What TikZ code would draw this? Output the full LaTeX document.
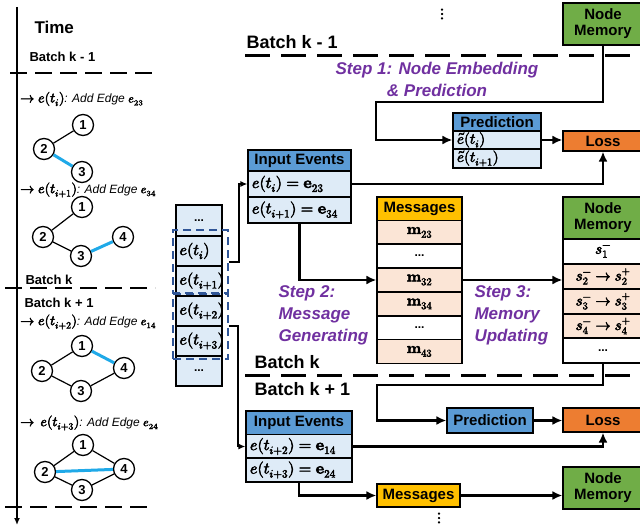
\documentclass[tikz,border=0pt]{standalone}
\usepackage{fontspec}
\setmainfont{Liberation Sans}
\usepackage{amsmath}
\usepackage{unicode-math}
\setmathfont{Latin Modern Math}
\setmathfont[version=bold,FakeBold=3.5]{Latin Modern Math}
\usetikzlibrary{arrows.meta}
\definecolor{entete}{HTML}{5B9BD5}
\definecolor{bleuclair}{HTML}{DEEBF7}
\definecolor{rose}{HTML}{FBE5D6}
\definecolor{jaune}{HTML}{FFC000}
\definecolor{vertmem}{HTML}{70AD47}
\definecolor{orangeperte}{HTML}{ED7D31}
\definecolor{violetetape}{HTML}{7030A0}
\definecolor{cyanarete}{HTML}{1FA9E8}
\definecolor{bleucadre}{HTML}{2F5597}
\begin{document}
\begin{tikzpicture}[x=1pt,y=-1pt]
	\tikzset{boite/.style={draw=black, line width=1.2pt, inner sep=0pt, font=\fontsize{15}{17}\selectfont\bfseries\boldmath},
		entetebleu/.style={boite, fill=entete}, cellule/.style={boite, fill=bleuclair}, rosee/.style={boite, fill=rose}, blanche/.style={boite, fill=white},
		gauche/.style={text width=#1, align=left, inner xsep=4pt},
		sommet/.style={circle, draw=black, line width=1.3pt, minimum size=21pt, inner sep=0pt, font=\fontsize{13}{13}\selectfont\bfseries},
		arete/.style={line width=1.2pt}, nouvelle/.style={line width=3pt, cyanarete},
		fleche/.style={-{Latex[length=10pt,width=9pt]}, line width=2.4pt},
		finefleche/.style={-{Latex[length=7pt,width=6pt]}, line width=1.5pt},
		separation/.style={dash pattern=on 17pt off 8pt, line width=2pt},
		grandesep/.style={dash pattern=on 25pt off 11pt, line width=3pt},
		cadre/.style={draw=bleucadre, dash pattern=on 8pt off 5pt, line width=2pt, inner sep=0pt},
		etape/.style={violetetape, align=left, font=\fontsize{17}{22}\selectfont\bfseries\itshape},
		legende/.style={anchor=west, inner xsep=1pt, font=\fontsize{14}{14}\selectfont\boldmath}};

	\clip (0,0) rectangle (640,527);

	\coordinate (t0) at (17,7);
	\coordinate (t1) at (17,525);
	\draw[-{Latex[length=7pt,width=6pt]}, line width=1.5pt] (t0) -- (t1);
	\node[anchor=west, font=\fontsize{17}{17}\selectfont\bfseries] (temps) at (31,27) {Time};
	\node[anchor=west, font=\fontsize{13}{13}\selectfont\bfseries] (bk0) at (26,57) {Batch k - 1};
	\node[anchor=west, font=\fontsize{13}{13}\selectfont\bfseries] (bk1) at (22,280) {Batch k};
	\node[anchor=west, font=\fontsize{13}{13}\selectfont\bfseries] (bk2) at (21,303) {Batch k + 1};
	\draw[separation] (10,73) -- (155,73);
	\draw[separation] (5,288) -- (155,288);
	\draw[separation] (5,507) -- (150,507);

	\node[legende] (l1) at (19,99) {$\rightarrow e(t_{i})$\fontsize{12}{14}\selectfont\textit{: Add Edge }$e_{23}$};
	\node[legende] (l2) at (19,190) {$\rightarrow e(t_{i+1})$\fontsize{12}{14}\selectfont\textit{: Add Edge }$e_{34}$};
	\node[legende] (l3) at (19,322) {$\rightarrow e(t_{i+2})$\fontsize{12}{14}\selectfont\textit{: Add Edge }$e_{14}$};
	\node[legende] (l4) at (19,423) {$\rightarrow\, e(t_{i+3})$\fontsize{12}{14}\selectfont\textit{: Add Edge }$e_{24}$};

	\node[sommet] (s11) at (83,125) {1};
	\node[sommet] (s21) at (44,149) {2};
	\node[sommet] (s31) at (82,172) {3};
	\draw[arete] (s21) -- (s11);
	\draw[nouvelle] (s21) -- (s31);

	\node[sommet] (s12) at (82,207) {1};
	\node[sommet] (s22) at (43,237) {2};
	\node[sommet] (s32) at (81,256) {3};
	\node[sommet] (s42) at (123,237) {4};
	\draw[arete] (s22) -- (s12);
	\draw[arete] (s22) -- (s32);
	\draw[nouvelle] (s32) -- (s42);

	\node[sommet] (s13) at (82,346) {1};
	\node[sommet] (s23) at (42,371) {2};
	\node[sommet] (s33) at (81,391) {3};
	\node[sommet] (s43) at (124,368) {4};
	\draw[arete] (s23) -- (s13);
	\draw[arete] (s23) -- (s33);
	\draw[arete] (s33) -- (s43);
	\draw[nouvelle] (s13) -- (s43);

	\node[sommet] (s14) at (83,445) {1};
	\node[sommet] (s24) at (45,472) {2};
	\node[sommet] (s34) at (82,490) {3};
	\node[sommet] (s44) at (124,469) {4};
	\draw[arete] (s24) -- (s14);
	\draw[arete] (s24) -- (s34);
	\draw[arete] (s34) -- (s44);
	\draw[arete] (s14) -- (s44);
	\draw[nouvelle] (s24) -- (s44);

	\node[cellule, minimum width=46pt, minimum height=31pt, font=\fontsize{12}{12}\selectfont\bfseries] (ev0) at (199,220.5) {...};
	\node[cellule, minimum width=46pt, minimum height=30pt] (ev1) at (199,251) {};
	\node[cellule, minimum width=46pt, minimum height=30pt] (ev2) at (199,281) {};
	\node[cellule, minimum width=46pt, minimum height=30pt] (ev3) at (199,311) {};
	\node[cellule, minimum width=46pt, minimum height=30pt] (ev4) at (199,341) {};
	\node[cellule, minimum width=46pt, minimum height=30pt, font=\fontsize{12}{12}\selectfont\bfseries] (ev5) at (199,371) {...};
	\begin{scope}
		\clip (176.6,205) rectangle (221.4,386);
		\node[anchor=west, font=\fontsize{16}{16}\selectfont\boldmath] (tx1) at (176,251) {$e(t_{i})$};
		\node[anchor=west, font=\fontsize{16}{16}\selectfont\boldmath] (tx2) at (176,281) {$e(t_{i+1})$};
		\node[anchor=west, font=\fontsize{16}{16}\selectfont\boldmath] (tx3) at (176,311) {$e(t_{i+2})$};
		\node[anchor=west, font=\fontsize{16}{16}\selectfont\boldmath] (tx4) at (176,341) {$e(t_{i+3})$};
	\end{scope}
	\node[cadre, minimum width=55pt, minimum height=64pt] (cadre1) at (200.5,262) {};
	\node[cadre, minimum width=55pt, minimum height=66pt] (cadre2) at (200.5,326) {};

	\node[anchor=west, font=\fontsize{18}{18}\selectfont\bfseries] (bt0) at (243,42) {Batch k - 1};
	\node[anchor=west, font=\fontsize{18}{18}\selectfont\bfseries] (bt1) at (251,362) {Batch k};
	\node[anchor=west, font=\fontsize{18}{18}\selectfont\bfseries] (bt2) at (251,389) {Batch k + 1};
	\draw[grandesep] (245,56) -- (640,56);
	\draw[grandesep] (245,375) -- (640,375);
	\node[font=\fontsize{16}{16}\selectfont\boldmath] (pts0) at (442,14) {$\vdots$};
	\node[font=\fontsize{16}{16}\selectfont\boldmath] (pts1) at (439,518) {$\vdots$};

	\node[etape, align=center] (etape1) at (437,79) {Step 1: Node Embedding\\\& Prediction};
	\node[etape, anchor=west] (etape2) at (275,315) {Step 2:\\Message\\Generating};
	\node[etape, anchor=west] (etape3) at (471,315) {Step 3:\\Memory\\Updating};

	\node[boite, fill=vertmem, minimum width=80pt, minimum height=42pt, align=center] (nm0) at (603,24) {Node\\[-1pt]Memory};
	\node[entetebleu, minimum width=88pt, minimum height=18pt] (pred1h) at (497,122) {Prediction};
	\node[cellule, minimum height=18pt, gauche=80pt] (pred1a) at (497,140) {$\tilde{e}(t_{i})$};
	\node[cellule, minimum height=19pt, gauche=80pt] (pred1b) at (497,158.5) {$\tilde{e}(t_{i+1})$};
	\node[boite, fill=orangeperte, minimum width=80pt, minimum height=20pt] (loss1) at (603,141) {Loss};

	\node[entetebleu, minimum width=103pt, minimum height=21pt] (ie1h) at (299.5,160.5) {Input Events};
	\node[cellule, minimum height=26pt, gauche=95pt, font=\fontsize{16}{17}\selectfont\boldmath] (ie1a) at (299.5,184) {$e(t_{i}) = \symbf{e}_{23}$};
	\node[cellule, minimum height=26pt, gauche=95pt, font=\fontsize{16}{17}\selectfont\boldmath] (ie1b) at (299.5,210) {$e(t_{i+1}) = \symbf{e}_{34}$};

	\node[boite, fill=jaune, minimum width=85pt, minimum height=24pt] (msg1h) at (419.5,209) {Messages};
	\node[rosee, minimum width=85pt, minimum height=23.5pt] (m23) at (419.5,232.5) {$\symbf{m}_{23}$};
	\node[blanche, minimum width=85pt, minimum height=24pt, font=\fontsize{12}{12}\selectfont\bfseries] (mpt1) at (419.5,256) {...};
	\node[rosee, minimum width=85pt, minimum height=24pt] (m32) at (419.5,280) {$\symbf{m}_{32}$};
	\node[rosee, minimum width=85pt, minimum height=24pt] (m34) at (419.5,304) {$\symbf{m}_{34}$};
	\node[blanche, minimum width=85pt, minimum height=24pt, font=\fontsize{12}{12}\selectfont\bfseries] (mpt2) at (419.5,328) {...};
	\node[rosee, minimum width=85pt, minimum height=23.5pt] (m43) at (419.5,351.5) {$\symbf{m}_{43}$};

	\node[boite, fill=vertmem, minimum width=80pt, minimum height=42pt, align=center] (nm1h) at (603,218) {Node\\[-1pt]Memory};
	\node[blanche, minimum width=80pt, minimum height=25pt] (nm1a) at (603,251.5) {$s_{1}^{-}$};
	\node[rosee, minimum width=80pt, minimum height=25pt] (nm1b) at (603,276.5) {$s_{2}^{-} \rightarrow s_{2}^{+}$};
	\node[rosee, minimum width=80pt, minimum height=25pt] (nm1c) at (603,301.5) {$s_{3}^{-} \rightarrow s_{3}^{+}$};
	\node[rosee, minimum width=80pt, minimum height=24pt] (nm1d) at (603,326) {$s_{4}^{-} \rightarrow s_{4}^{+}$};
	\node[blanche, minimum width=80pt, minimum height=25pt, font=\fontsize{12}{12}\selectfont\bfseries] (nm1e) at (603,350.5) {...};

	\node[entetebleu, minimum width=86pt, minimum height=25pt] (pred2) at (490,420.5) {Prediction};
	\node[boite, fill=orangeperte, minimum width=80pt, minimum height=24pt] (loss2) at (603,420) {Loss};
	\node[entetebleu, minimum width=106pt, minimum height=24pt] (ie2h) at (299,423) {Input Events};
	\node[cellule, minimum height=23.5pt, gauche=98pt, font=\fontsize{16}{17}\selectfont\boldmath] (ie2a) at (299,446.5) {$e(t_{i+2}) = \symbf{e}_{14}$};
	\node[cellule, minimum height=24pt, gauche=98pt, font=\fontsize{16}{17}\selectfont\boldmath] (ie2b) at (299,470) {$e(t_{i+3}) = \symbf{e}_{24}$};
	\node[boite, fill=jaune, minimum width=83pt, minimum height=23pt] (msg2) at (418.5,495.5) {Messages};
	\node[boite, fill=vertmem, minimum width=80pt, minimum height=42pt, align=center] (nm2) at (603,488) {Node\\[-1pt]Memory};

	\coordinate (coude1) at (376,102);
	\coordinate (coude2) at (377,385);
	\draw[finefleche] (cadre1.east) -- ++(10,0) |- (ie1a.west);
	\draw[finefleche] (cadre2.east) -- ++(9,0) |- (ie2a.west);
	\draw[fleche] (ie1a.east) -| (loss1.south);
	\draw[fleche] (ie1b.south) |- (m32.west);
	\draw[fleche] (m32.east) -- (m32.east -| nm1b.west);
	\draw[fleche] (nm0.south) |- (coude1) |- (pred1a.west);
	\draw[fleche] (pred1a.east) -- (pred1a.east -| loss1.west);
	\draw[fleche] (nm1e.south) |- (coude2) |- (pred2.west);
	\draw[fleche] (pred2.east) -- (pred2.east -| loss2.west);
	\draw[fleche] (ie2a.east) -| (loss2.south);
	\draw[fleche] (ie2b.south) |- (msg2.west);
	\draw[fleche] (msg2.east) -- (msg2.east -| nm2.west);
\end{tikzpicture}
\end{document}
